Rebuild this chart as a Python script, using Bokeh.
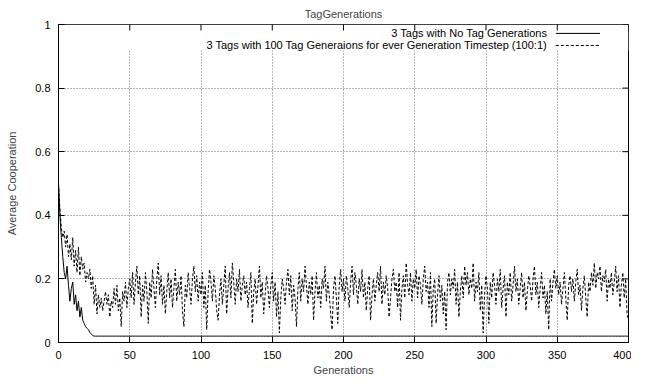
import math
from bokeh.plotting import figure
from bokeh.models import (FixedTicker, CustomJSTickFormatter, Label, Arrow,
                          Range1d, BoxAnnotation)
from bokeh.embed import file_html
from bokeh.resources import INLINE

# ---------------- data ----------------
x_ticks = [0, 50, 100, 150, 200, 250, 300, 350, 400]
y_ticks = [0, 0.2, 0.4, 0.6, 0.8, 1]
series_names = ["3 Tags with No Tag Generations",
                "3 Tags with 100 Tag Generaions for ever Generation Timestep (100:1)"]

coop_no_taggen = [
    0.50, 0.40, 0.33, 0.27, 0.22, 0.20, 0.24, 0.18, 0.13, 0.17, 0.19, 0.12, 0.15,
    0.10, 0.13, 0.08, 0.11, 0.07, 0.06, 0.05, 0.045, 0.04, 0.032, 0.027, 0.022, 0.02,
    0.02, 0.02, 0.02, 0.02, 0.02, 0.02, 0.02, 0.02, 0.02, 0.02, 0.02, 0.02, 0.02, 0.02, 0.02, 0.02, 0.02, 0.02, 0.02, 0.02, 0.02, 0.02, 0.02, 0.02, 0.02,
    0.02, 0.02, 0.02, 0.02, 0.02, 0.02, 0.02, 0.02, 0.02, 0.02, 0.02, 0.02, 0.02, 0.02, 0.02, 0.02, 0.02, 0.02, 0.02, 0.02, 0.02, 0.02, 0.02, 0.02, 0.02,
    0.02, 0.02, 0.02, 0.02, 0.02, 0.02, 0.02, 0.02, 0.02, 0.02, 0.02, 0.02, 0.02, 0.02, 0.02, 0.02, 0.02, 0.02, 0.02, 0.02, 0.02, 0.02, 0.02, 0.02, 0.02,
    0.02, 0.02, 0.02, 0.02, 0.02, 0.02, 0.02, 0.02, 0.02, 0.02, 0.02, 0.02, 0.02, 0.02, 0.02, 0.02, 0.02, 0.02, 0.02, 0.02, 0.02, 0.02, 0.02, 0.02, 0.02,
    0.02, 0.02, 0.02, 0.02, 0.02, 0.02, 0.02, 0.02, 0.02, 0.02, 0.02, 0.02, 0.02, 0.02, 0.02, 0.02, 0.02, 0.02, 0.02, 0.02, 0.02, 0.02, 0.02, 0.02, 0.02,
    0.02, 0.02, 0.02, 0.02, 0.02, 0.02, 0.02, 0.02, 0.02, 0.02, 0.02, 0.02, 0.02, 0.02, 0.02, 0.02, 0.02, 0.02, 0.02, 0.02, 0.02, 0.02, 0.02, 0.02, 0.02,
    0.02, 0.02, 0.02, 0.02, 0.02, 0.02, 0.02, 0.02, 0.02, 0.02, 0.02, 0.02, 0.02, 0.02, 0.02, 0.02, 0.02, 0.02, 0.02, 0.02, 0.02, 0.02, 0.02, 0.02, 0.02,
    0.02, 0.02, 0.02, 0.02, 0.02, 0.02, 0.02, 0.02, 0.02, 0.02, 0.02, 0.02, 0.02, 0.02, 0.02, 0.02, 0.02, 0.02, 0.02, 0.02, 0.02, 0.02, 0.02, 0.02, 0.02,
    0.02, 0.02, 0.02, 0.02, 0.02, 0.02, 0.02, 0.02, 0.02, 0.02, 0.02, 0.02, 0.02, 0.02, 0.02, 0.02, 0.02, 0.02, 0.02, 0.02, 0.02, 0.02, 0.02, 0.02, 0.02,
    0.02, 0.02, 0.02, 0.02, 0.02, 0.02, 0.02, 0.02, 0.02, 0.02, 0.02, 0.02, 0.02, 0.02, 0.02, 0.02, 0.02, 0.02, 0.02, 0.02, 0.02, 0.02, 0.02, 0.02, 0.02,
    0.02, 0.02, 0.02, 0.02, 0.02, 0.02, 0.02, 0.02, 0.02, 0.02, 0.02, 0.02, 0.02, 0.02, 0.02, 0.02, 0.02, 0.02, 0.02, 0.02, 0.02, 0.02, 0.02, 0.02, 0.02,
    0.02, 0.02, 0.02, 0.02, 0.02, 0.02, 0.02, 0.02, 0.02, 0.02, 0.02, 0.02, 0.02, 0.02, 0.02, 0.02, 0.02, 0.02, 0.02, 0.02, 0.02, 0.02, 0.02, 0.02, 0.02,
    0.02, 0.02, 0.02, 0.02, 0.02, 0.02, 0.02, 0.02, 0.02, 0.02, 0.02, 0.02, 0.02, 0.02, 0.02, 0.02, 0.02, 0.02, 0.02, 0.02, 0.02, 0.02, 0.02, 0.02, 0.02,
    0.02, 0.02, 0.02, 0.02, 0.02, 0.02, 0.02, 0.02, 0.02, 0.02, 0.02, 0.02, 0.02, 0.02, 0.02, 0.02, 0.02, 0.02, 0.02, 0.02, 0.02, 0.02, 0.02, 0.02, 0.02,
    0.02, 0.02, 0.02, 0.02, 0.02, 0.02, 0.02, 0.02, 0.02, 0.02, 0.02, 0.02, 0.02, 0.02, 0.02, 0.02, 0.02, 0.02, 0.02, 0.02, 0.02, 0.02, 0.02, 0.02, 0.02,
    0.02, 0.02, 0.02, 0.02, 0.02, 0.02, 0.02, 0.02, 0.02, 0.02, 0.02, 0.02, 0.02, 0.02, 0.02, 0.02, 0.02, 0.02, 0.02, 0.02, 0.02, 0.02, 0.02, 0.02, 0.02,
]

coop_100to1 = [
    0.50, 0.42, 0.36, 0.33, 0.35, 0.30, 0.34, 0.27, 0.31, 0.26, 0.33, 0.24, 0.29, 0.22, 0.30, 0.21, 0.27, 0.23, 0.25, 0.19, 0.22, 0.20, 0.23, 0.17, 0.21,
    0.12, 0.18, 0.09, 0.15, 0.11, 0.14, 0.10, 0.13, 0.16, 0.12, 0.15, 0.08, 0.13, 0.11, 0.17, 0.12, 0.18, 0.10, 0.14, 0.05, 0.16, 0.13, 0.19, 0.11, 0.17,
    0.20, 0.14, 0.22, 0.12, 0.19, 0.24, 0.15, 0.21, 0.08, 0.18, 0.13, 0.22, 0.16, 0.06, 0.19, 0.14, 0.23, 0.17, 0.11, 0.20, 0.25, 0.15, 0.21, 0.12, 0.18,
    0.09, 0.16, 0.22, 0.14, 0.20, 0.11, 0.17, 0.23, 0.13, 0.19, 0.15, 0.21, 0.10, 0.05, 0.18, 0.14, 0.22, 0.17, 0.12, 0.20, 0.24, 0.16, 0.21, 0.13, 0.19,
    0.15, 0.22, 0.11, 0.18, 0.04, 0.16, 0.23, 0.19, 0.13, 0.21, 0.17, 0.10, 0.07, 0.15, 0.20, 0.12, 0.18, 0.24, 0.09, 0.17, 0.22, 0.14, 0.25, 0.19, 0.12,
    0.20, 0.16, 0.23, 0.13, 0.18, 0.21, 0.15, 0.19, 0.11, 0.17, 0.22, 0.06, 0.16, 0.20, 0.12, 0.18, 0.24, 0.14, 0.19, 0.09, 0.15, 0.21, 0.17, 0.11, 0.18,
    0.22, 0.13, 0.19, 0.08, 0.16, 0.03, 0.14, 0.20, 0.17, 0.12, 0.19, 0.23, 0.15, 0.21, 0.10, 0.18, 0.14, 0.05, 0.17, 0.22, 0.13, 0.20, 0.16, 0.24, 0.18,
    0.12, 0.19, 0.15, 0.21, 0.07, 0.16, 0.22, 0.14, 0.18, 0.11, 0.20, 0.17, 0.24, 0.13, 0.19, 0.15, 0.09, 0.04, 0.17, 0.21, 0.14, 0.06, 0.18, 0.23, 0.16,
    0.20, 0.13, 0.21, 0.17, 0.11, 0.19, 0.24, 0.15, 0.22, 0.18, 0.12, 0.20, 0.16, 0.23, 0.14, 0.19, 0.10, 0.17, 0.21, 0.07, 0.15, 0.20, 0.13, 0.18, 0.22,
    0.16, 0.24, 0.12, 0.19, 0.15, 0.21, 0.17, 0.08, 0.14, 0.20, 0.23, 0.16, 0.19, 0.11, 0.22, 0.07, 0.17, 0.21, 0.14, 0.25, 0.18, 0.15, 0.22, 0.13, 0.20,
    0.17, 0.23, 0.14, 0.21, 0.18, 0.12, 0.20, 0.24, 0.16, 0.19, 0.11, 0.22, 0.05, 0.17, 0.20, 0.06, 0.15, 0.21, 0.13, 0.18, 0.09, 0.16, 0.04, 0.19, 0.22,
    0.15, 0.20, 0.17, 0.23, 0.12, 0.19, 0.08, 0.16, 0.21, 0.14, 0.24, 0.18, 0.22, 0.15, 0.20, 0.17, 0.25, 0.13, 0.19, 0.16, 0.22, 0.10, 0.18, 0.03, 0.15,
    0.21, 0.17, 0.06, 0.19, 0.14, 0.22, 0.18, 0.12, 0.20, 0.16, 0.23, 0.11, 0.17, 0.21, 0.08, 0.19, 0.15, 0.22, 0.13, 0.18, 0.24, 0.16, 0.20, 0.12, 0.17,
    0.22, 0.14, 0.19, 0.10, 0.16, 0.21, 0.18, 0.13, 0.20, 0.24, 0.15, 0.19, 0.11, 0.17, 0.22, 0.14, 0.18, 0.09, 0.16, 0.04, 0.20, 0.13, 0.19, 0.23, 0.17,
    0.21, 0.15, 0.19, 0.12, 0.17, 0.22, 0.14, 0.07, 0.18, 0.21, 0.16, 0.20, 0.13, 0.19, 0.23, 0.15, 0.18, 0.10, 0.17, 0.21, 0.14, 0.08, 0.19, 0.16, 0.22,
    0.18, 0.25, 0.17, 0.22, 0.20, 0.24, 0.16, 0.21, 0.19, 0.23, 0.13, 0.20, 0.17, 0.22, 0.15, 0.19, 0.24, 0.16, 0.21, 0.11, 0.18, 0.22, 0.14, 0.20, 0.09,
    0.07,
]

gen_a = list(range(len(coop_no_taggen)))
gen_b = list(range(len(coop_100to1)))

FONT = "Liberation Sans"

xr = Range1d(0, 400)
yr = Range1d(0, 1)
p = figure(width=631, height=380, output_backend="svg", toolbar_location=None,
           x_range=xr, y_range=yr,
           min_border_left=58, min_border_right=3, min_border_top=23, min_border_bottom=38,
           background_fill_color="white", border_fill_color="white")

p.title.text = "TagGenerations"
p.title.align = "center"
p.title.text_font = FONT
p.title.text_font_size = "11px"
p.title.text_font_style = "normal"

p.outline_line_color = "black"
p.outline_line_width = 1

fmt = CustomJSTickFormatter(code="return String(Math.round(tick*10)/10);")

for ax in (p.xaxis[0], p.yaxis[0]):
    ax.major_tick_in = 6
    ax.major_tick_out = 0
    ax.minor_tick_in = 0
    ax.minor_tick_out = 0
    ax.axis_line_color = "black"
    ax.major_tick_line_color = "black"
    ax.major_label_text_font = FONT
    ax.major_label_text_font_size = "11px"
    ax.major_label_text_color = "black"
    ax.axis_label_text_font = FONT
    ax.axis_label_text_font_size = "11px"
    ax.axis_label_text_font_style = "normal"

p.xaxis[0].ticker = FixedTicker(ticks=x_ticks)
p.yaxis[0].ticker = FixedTicker(ticks=y_ticks)
p.xaxis[0].formatter = fmt
p.yaxis[0].formatter = fmt
p.xaxis[0].axis_label = "Generations"
p.yaxis[0].axis_label = "Average Cooperation"
p.xaxis[0].major_label_standoff = 8
p.yaxis[0].major_label_standoff = 8
p.xaxis[0].axis_label_standoff = 2
p.yaxis[0].axis_label_standoff = 14

p.xgrid.ticker = FixedTicker(ticks=x_ticks)
p.ygrid.ticker = FixedTicker(ticks=y_ticks)
for g in (p.xgrid[0], p.ygrid[0]):
    g.grid_line_color = "#666666"
    g.grid_line_dash = "1 2"
    g.grid_line_width = 1

# keep the key area free of grid lines (as gnuplot does)
p.add_layout(BoxAnnotation(top=yr.end, bottom=0.918, fill_color="white", fill_alpha=1.0,
                           line_alpha=0, level="underlay"))

# mirrored inward ticks on the top and right borders (clipped to the frame)
p.scatter(x=x_ticks, y=[yr.end] * len(x_ticks), marker="dash", size=12,
          angle=math.pi / 2, line_color="black", line_width=1)
p.scatter(x=[xr.end] * len(y_ticks), y=y_ticks, marker="dash", size=12,
          line_color="black", line_width=1)

p.line(gen_b, coop_100to1, line_color="black", line_width=1, line_dash="3 2")
p.line(gen_a, coop_no_taggen, line_color="black", line_width=1)

# gnuplot-style key (text right-aligned, sample to the right)
key_ys = [0.972, 0.934]
key_dashes = ["solid", "3 2"]
for name, ky, dash in zip(series_names, key_ys, key_dashes):
    p.add_layout(Label(x=343, y=ky, text=name, text_align="right", text_baseline="middle",
                       text_font=FONT, text_font_size="11px", text_color="black"))
    p.add_layout(Arrow(x_start=349, y_start=ky, x_end=380, y_end=ky, end=None,
                       line_color="black", line_width=1, line_dash=dash))

open("out.html", "w").write(file_html(p, INLINE))
